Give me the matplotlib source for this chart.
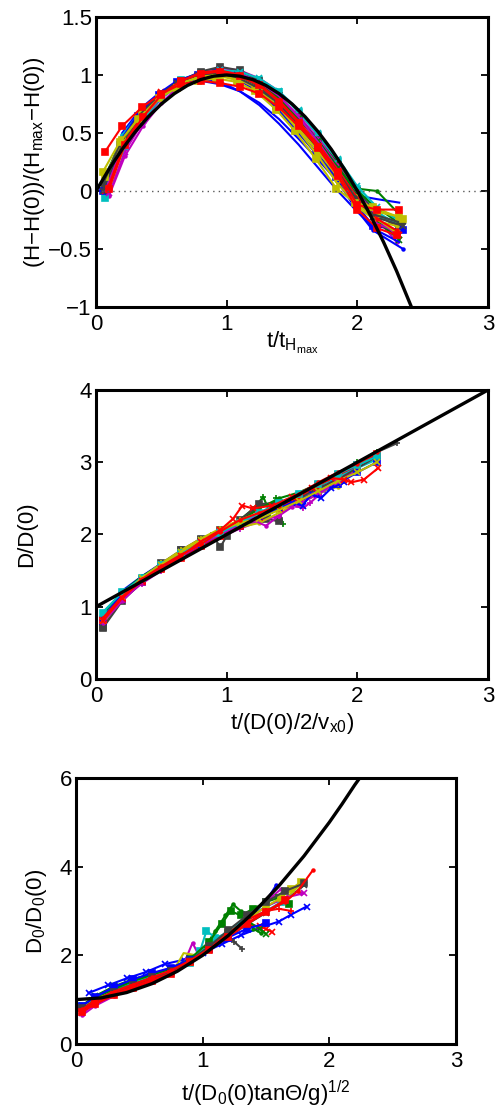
import matplotlib
matplotlib.use("Agg")
import matplotlib.pyplot as plt

plt.rcParams['font.family'] = ['Liberation Sans', 'DejaVu Sans']
plt.rcParams['mathtext.fontset'] = 'custom'
plt.rcParams['mathtext.rm'] = 'Liberation Sans'
plt.rcParams['mathtext.it'] = 'Liberation Sans'
plt.rcParams['mathtext.default'] = 'regular'

# MATLAB default colour cycle
MB = (0, 0, 1); MG = (0, 0.5, 0); MR = (1, 0, 0); MC = (0, 0.75, 0.75)
MM = (0.75, 0, 0.75); MY = (0.75, 0.75, 0); MK = (0.25, 0.25, 0.25)

# ---------------- Panel 1 : normalised height ----------------
T1 = [0.07, 0.2, 0.35, 0.5, 0.65, 0.8, 0.95, 1.1, 1.25, 1.4, 1.55, 1.7, 1.85, 2.0, 2.15, 2.32]
T1B = [0.05, 0.18, 0.32, 0.48, 0.62, 0.78, 0.92, 1.08, 1.22, 1.38, 1.52, 1.68, 1.84, 1.98, 2.12, 2.35]
T1C = [0.1, 0.22, 0.36, 0.5, 0.65, 0.8, 0.95, 1.1, 1.25, 1.4, 1.55, 1.7, 1.85, 2.0, 2.15, 2.3]
h01 = [0.34, 0.56, 0.72, 0.84, 0.92, 0.95, 0.93, 0.90, 0.84, 0.72, 0.56, 0.38, 0.16, -0.12, -0.16, -0.16]
h02 = [0.02, 0.50, 0.72, 0.86, 0.93, 0.95, 0.92, 0.86, 0.76, 0.62, 0.45, 0.27, 0.08, -0.04, -0.07, -0.10]
h03 = [0.16, 0.42, 0.62, 0.80, 0.89, 0.95, 0.97, 0.94, 0.86, 0.70, 0.52, 0.28, 0.02, -0.10, -0.14, -0.24]
h04 = [-0.04, 0.30, 0.56, 0.76, 0.92, 1.02, 1.06, 1.04, 0.97, 0.86, 0.68, 0.48, 0.24, 0.0, -0.24, -0.44]
h05 = [-0.06, 0.36, 0.64, 0.84, 0.96, 1.02, 1.04, 1.02, 0.96, 0.85, 0.68, 0.48, 0.26, 0.02, -0.18, -0.30]
h06 = [0.04, 0.40, 0.64, 0.82, 0.95, 1.03, 1.07, 1.04, 0.95, 0.82, 0.64, 0.44, 0.22, 0.0, -0.20, -0.32]
h07 = [0.10, 0.46, 0.68, 0.84, 0.94, 0.99, 1.01, 0.98, 0.90, 0.78, 0.62, 0.44, 0.24, 0.02, 0.0, -0.20]
h08 = [0.0, 0.40, 0.65, 0.83, 0.94, 1.00, 1.02, 0.98, 0.88, 0.73, 0.55, 0.34, 0.12, -0.10, -0.30, -0.34]
h09 = [0.0, 0.44, 0.68, 0.85, 0.95, 1.01, 1.03, 0.99, 0.90, 0.76, 0.58, 0.38, 0.16, -0.08, -0.28, -0.38]
h10 = [0.10, 0.44, 0.66, 0.82, 0.92, 0.97, 0.99, 0.95, 0.86, 0.70, 0.50, 0.30, 0.08, -0.14, -0.26, -0.30]
h11 = [0.08, 0.48, 0.70, 0.85, 0.95, 1.0, 1.0, 0.97, 0.89, 0.76, 0.58, 0.38, 0.16, -0.06, -0.22, -0.26]
h12 = [-0.02, 0.34, 0.60, 0.80, 0.93, 1.01, 1.04, 1.01, 0.93, 0.81, 0.65, 0.45, 0.22, -0.02, -0.22, -0.40]
h13 = [0.02, 0.42, 0.66, 0.84, 0.95, 1.01, 1.02, 0.97, 0.87, 0.72, 0.54, 0.33, 0.10, -0.14, -0.34, -0.50]
h14 = [0.06, 0.40, 0.64, 0.82, 0.94, 1.0, 1.02, 0.99, 0.91, 0.79, 0.63, 0.43, 0.20, -0.04, -0.26, -0.42]
h15 = [0.02, 0.40, 0.64, 0.83, 0.95, 1.01, 1.03, 0.99, 0.91, 0.77, 0.59, 0.37, 0.13, -0.16, -0.32, -0.38]
h16 = [0.12, 0.44, 0.67, 0.83, 0.93, 0.98, 1.0, 0.96, 0.87, 0.72, 0.54, 0.34, 0.12, -0.06, -0.18, -0.22]
h17 = [0.05, 0.42, 0.66, 0.84, 0.95, 1.02, 1.04, 1.0, 0.92, 0.78, 0.60, 0.40, 0.18, -0.06, -0.24, -0.34]
h18 = [0.05, 0.40, 0.64, 0.82, 0.94, 1.0, 1.02, 0.98, 0.90, 0.77, 0.60, 0.40, 0.18, -0.05, -0.20, -0.28]
h19 = [0.04, 0.44, 0.68, 0.84, 0.93, 0.96, 0.94, 0.86, 0.74, 0.58, 0.40, 0.20, 0.0, -0.18, -0.34, -0.44]
h20 = [0.08, 0.40, 0.62, 0.80, 0.92, 0.99, 1.02, 1.00, 0.94, 0.82, 0.66, 0.46, 0.22, 0.02, -0.12, -0.30]
h21 = [0.06, 0.38, 0.62, 0.80, 0.93, 1.01, 1.04, 1.03, 0.97, 0.86, 0.70, 0.50, 0.28, 0.04, -0.14, -0.24]
h22 = [0.0, 0.38, 0.63, 0.81, 0.93, 1.0, 1.03, 1.01, 0.94, 0.82, 0.64, 0.42, 0.18, -0.06, -0.28, -0.36]
h23 = [0.02, 0.40, 0.64, 0.82, 0.93, 0.99, 1.0, 0.97, 0.88, 0.72, 0.52, 0.30, 0.06, -0.12, -0.24, -0.36]
h24 = [0.0, 0.36, 0.60, 0.80, 0.93, 1.0, 1.03, 1.0, 0.92, 0.78, 0.60, 0.38, 0.16, -0.06, -0.22, -0.30]
P1_CURVES = [
    (T1, h02, MB, ''), (T1C, h04, MM, '.'), (T1, h05, MC, 's'), (T1, h06, MK, 's'),
    (T1, h07, MG, '.'), (T1B, h08, MB, 's'), (T1, h09, MR, 'x'), (T1C, h10, MY, '.'),
    (T1, h11, MC, '.'), (T1C, h12, MM, 'x'), (T1B, h13, MB, '.'), (T1, h14, MG, 'x'),
    (T1, h19, MB, ''), (T1B, h20, MG, ''), (T1C, h21, MC, 'x'), (T1, h22, MM, ''),
    (T1B, h24, MK, 'x'), (T1C, h23, MY, 'x'),
    (T1, h16, MY, 's'), (T1C, h17, MR, '.'), (T1B, h18, MK, '.'), (T1B, h03, MY, 's'),
    (T1C, h15, MR, 's'), (T1, h01, MR, 's'),
]
FIT1_T = [0, 0.1, 0.2, 0.3, 0.4, 0.5, 0.6, 0.7, 0.8, 0.9, 1.0, 1.1, 1.2, 1.3, 1.4, 1.5,
          1.6, 1.7, 1.8, 1.9, 2.0, 2.1, 2.2, 2.3, 2.41]
FIT1_Y = [0, 0.19, 0.36, 0.51, 0.64, 0.75, 0.84, 0.91, 0.96, 0.99, 1.0, 0.99, 0.96, 0.91,
          0.84, 0.75, 0.64, 0.51, 0.36, 0.19, 0, -0.21, -0.44, -0.69, -0.99]

# ---------------- Panel 2 : D/D(0) ----------------
T2 = [0.05, 0.2, 0.35, 0.5, 0.65, 0.8, 0.95, 1.1, 1.25, 1.4, 1.55, 1.7, 1.85, 2.0, 2.15]
T2S = [0.05, 0.2, 0.35, 0.5, 0.65, 0.8, 0.95, 1.1, 1.25, 1.4, 1.55, 1.7, 1.85]
d01_t = [0.05, 0.2, 0.35, 0.5, 0.65, 0.8, 0.95, 1.05, 1.12, 1.2, 1.35, 1.5, 1.65, 1.8, 1.9, 1.95, 2.05, 2.16]
d01 = [0.80, 1.12, 1.36, 1.52, 1.70, 1.90, 2.06, 2.22, 2.40, 2.36, 2.40, 2.52, 2.64, 2.78, 2.76, 2.72, 2.76, 2.92]
d02 = [0.86, 1.22, 1.42, 1.60, 1.76, 1.90, 2.02, 2.16, 2.30, 2.42, 2.48, 2.60, 2.80, 2.96, 3.10]
d03_t = [0.05, 0.2, 0.35, 0.5, 0.65, 0.8, 0.95, 1.1, 1.2, 1.28, 1.33, 1.38, 1.43]
d03 = [0.78, 1.10, 1.34, 1.54, 1.72, 1.88, 2.02, 2.20, 2.35, 2.52, 2.30, 2.50, 2.14]
d04 = [0.84, 1.15, 1.38, 1.56, 1.72, 1.86, 2.0, 2.14, 2.28, 2.42, 2.55, 2.68, 2.84, 3.0, 3.12]
d05_t = [0.05, 0.2, 0.35, 0.5, 0.65, 0.8, 0.9, 0.95, 1.0, 1.1, 1.2, 1.3, 1.4]
d05 = [0.72, 1.10, 1.38, 1.60, 1.78, 1.92, 1.98, 1.82, 1.98, 2.14, 2.20, 2.22, 2.18]
d06_t = [0.05, 0.2, 0.35, 0.5, 0.65, 0.8, 0.95, 1.1, 1.25, 1.4, 1.55, 1.7, 1.85, 2.0, 2.15, 2.3]
d06 = [0.74, 1.12, 1.40, 1.60, 1.76, 1.92, 2.02, 2.16, 2.40, 2.42, 2.52, 2.70, 2.82, 2.98, 3.14, 3.26]
d07_t = [0.05, 0.2, 0.35, 0.5, 0.65, 0.8, 0.95, 1.1, 1.25, 1.4, 1.5, 1.58, 1.64, 1.75, 1.9, 2.0]
d07 = [0.80, 1.10, 1.32, 1.50, 1.66, 1.82, 1.96, 2.08, 2.18, 2.26, 2.42, 2.36, 2.44, 2.62, 2.80, 2.88]
d08 = [0.88, 1.16, 1.38, 1.56, 1.74, 1.90, 2.04, 2.18, 2.30, 2.42, 2.52, 2.66, 2.80, 2.92, 3.04]
d09_t = [0.05, 0.2, 0.35, 0.5, 0.65, 0.8, 0.95, 1.1, 1.25, 1.4, 1.55, 1.7, 1.85, 1.9]
d09 = [0.76, 1.10, 1.36, 1.58, 1.76, 1.90, 2.02, 2.10, 2.16, 2.30, 2.44, 2.58, 2.66, 2.74]
d10 = [0.82, 1.12, 1.36, 1.52, 1.68, 1.84, 1.98, 2.12, 2.24, 2.36, 2.52, 2.68, 2.82, 2.96, 3.12]
d11_t = [0.05, 0.2, 0.35, 0.5, 0.65, 0.8, 0.95, 1.1, 1.25, 1.4, 1.5, 1.58, 1.65, 1.72, 1.8, 1.9]
d11 = [0.84, 1.18, 1.40, 1.56, 1.70, 1.86, 2.0, 2.14, 2.24, 2.36, 2.44, 2.40, 2.56, 2.50, 2.64, 2.72]
d12_t = [0.05, 0.2, 0.35, 0.5, 0.65, 0.8, 0.95, 1.1, 1.2, 1.3, 1.4, 1.5]
d12 = [0.78, 1.08, 1.34, 1.52, 1.70, 1.86, 2.0, 2.14, 2.20, 2.12, 2.26, 2.38]
d13 = [0.92, 1.20, 1.40, 1.58, 1.74, 1.88, 2.02, 2.16, 2.30, 2.44, 2.56, 2.70, 2.84, 2.96, 3.08]
d14 = [0.80, 1.14, 1.40, 1.58, 1.76, 1.92, 2.06, 2.16, 2.22, 2.34, 2.46, 2.60, 2.74, 2.86, 3.0]
d15 = [0.84, 1.14, 1.38, 1.56, 1.72, 1.86, 2.04, 2.20, 2.30, 2.40, 2.56, 2.72, 2.86, 2.98, 3.14]
d16 = [0.70, 1.08, 1.34, 1.56, 1.78, 1.94, 2.06, 2.20, 2.42, 2.44, 2.50, 2.64, 2.76, 2.92, 3.08]
d17 = [0.90, 1.20, 1.42, 1.58, 1.74, 1.90, 2.04, 2.18, 2.36, 2.50, 2.58, 2.70, 2.84, 2.98, 3.16]
d18 = [0.80, 1.14, 1.36, 1.54, 1.70, 1.86, 2.0, 2.12, 2.26, 2.38, 2.46, 2.56, 2.70, 2.86, 3.0]
d19 = [0.84, 1.16, 1.40, 1.60, 1.78, 1.94, 2.08, 2.20, 2.30, 2.38, 2.42, 2.56, 2.70]
d20 = [0.82, 1.10, 1.34, 1.54, 1.72, 1.88, 2.02, 2.14, 2.28, 2.36, 2.42, 2.56, 2.72]
P2_CURVES = [
    (T2, d02, MB, '.'), (d03_t, d03, MG, '+'), (T2, d04, MG, '+'), (d05_t, d05, MK, 's'),
    (d06_t, d06, MK, '+'), (d07_t, d07, MM, '+'), (T2, d08, MC, ''), (d09_t, d09, MY, '.'),
    (T2, d16, MK, 's'), (T2, d17, MG, '.'), (T2, d18, MB, 's'), (T2S, d19, MY, '+'),
    (T2S, d20, MM, 's'),
    (T2, d10, MR, 's'), (d11_t, d11, MB, 'x'), (d12_t, d12, MM, '.'), (T2, d13, MC, 's'),
    (T2, d14, MY, 'x'), (T2, d15, MR, '.'), (d01_t, d01, MR, 'x'),
]
FIT2_T = [0, 3]
FIT2_Y = [1, 4]

# ---------------- Panel 3 : D0/D0(0) ----------------
T3 = [0.05, 0.15, 0.3, 0.45, 0.6, 0.75, 0.9, 1.05, 1.2, 1.35, 1.5, 1.65, 1.8]
T3S = [0.05, 0.15, 0.3, 0.45, 0.6, 0.75, 0.9, 1.05, 1.2, 1.35, 1.5, 1.65]
e01_t = [0.1, 0.25, 0.4, 0.55, 0.7, 0.85, 1.0, 1.15, 1.3, 1.45, 1.6, 1.7, 1.82]
e01 = [1.15, 1.32, 1.48, 1.62, 1.80, 1.90, 2.05, 2.25, 2.45, 2.62, 2.76, 2.92, 3.10]
e02 = [0.72, 0.90, 1.10, 1.26, 1.42, 1.58, 1.84, 2.12, 2.42, 2.70, 2.98, 3.25]
e03_t = [0.05, 0.15, 0.3, 0.45, 0.6, 0.75, 0.9, 1.0, 1.1, 1.18, 1.24, 1.3, 1.4, 1.46]
e03 = [0.88, 1.06, 1.26, 1.44, 1.55, 1.66, 1.88, 2.10, 2.55, 2.90, 3.15, 3.00, 2.60, 2.50]
e04_t = [0.05, 0.15, 0.3, 0.45, 0.6, 0.75, 0.85, 0.92, 0.97, 1.05, 1.2, 1.35, 1.5, 1.62, 1.78]
e04 = [0.65, 0.86, 1.08, 1.26, 1.42, 1.60, 1.80, 2.28, 2.00, 2.20, 2.50, 2.90, 3.20, 3.50, 3.40]
e05_t = [0.05, 0.15, 0.3, 0.45, 0.6, 0.75, 0.8, 0.85, 0.95, 1.1, 1.25, 1.4, 1.55, 1.7, 1.78]
e05 = [0.80, 0.98, 1.18, 1.34, 1.50, 1.66, 1.80, 2.05, 2.00, 2.30, 2.55, 2.80, 3.05, 3.40, 3.62]
e06_t = [0.05, 0.15, 0.3, 0.45, 0.6, 0.75, 0.9, 0.98, 1.03, 1.1, 1.2, 1.35, 1.5, 1.62]
e06 = [0.85, 1.02, 1.20, 1.36, 1.48, 1.62, 1.82, 2.10, 2.55, 2.40, 2.50, 2.80, 3.00, 3.20]
e07_t = [0.05, 0.15, 0.3, 0.45, 0.6, 0.75, 0.9, 1.05, 1.2, 1.25, 1.31]
e07 = [0.78, 0.96, 1.14, 1.30, 1.46, 1.62, 1.84, 2.12, 2.45, 2.30, 2.15]
e08_t = [0.05, 0.15, 0.3, 0.45, 0.6, 0.75, 0.9, 1.05, 1.2, 1.35, 1.45, 1.5, 1.55]
e08 = [0.75, 0.96, 1.16, 1.32, 1.48, 1.64, 1.90, 2.18, 2.45, 2.70, 2.65, 2.60, 2.52]
e09_t = [0.05, 0.15, 0.3, 0.45, 0.6, 0.75, 0.9, 1.05, 1.2, 1.35, 1.5, 1.58]
e09 = [0.82, 1.02, 1.22, 1.38, 1.54, 1.68, 1.88, 2.16, 2.50, 2.86, 3.22, 3.58]
e10_t = [0.05, 0.15, 0.3, 0.45, 0.6, 0.75, 0.9, 1.05, 1.2, 1.35, 1.5, 1.65, 1.75, 1.87]
e10 = [0.78, 0.98, 1.18, 1.34, 1.50, 1.66, 1.88, 2.14, 2.44, 2.72, 3.00, 3.20, 3.45, 3.92]
e11_t = [0.05, 0.15, 0.3, 0.45, 0.6, 0.75, 0.9, 1.05, 1.2, 1.35, 1.45, 1.5]
e11 = [0.86, 1.08, 1.30, 1.46, 1.58, 1.70, 1.88, 2.16, 2.52, 2.78, 2.60, 2.48]
e12 = [0.82, 1.00, 1.20, 1.36, 1.52, 1.66, 1.86, 2.12, 2.40, 2.70, 2.96, 3.22, 3.58]
e13 = [0.84, 1.04, 1.24, 1.40, 1.54, 1.68, 1.92, 2.20, 2.56, 2.86, 3.10, 3.30]
e14_t = [0.05, 0.15, 0.3, 0.45, 0.6, 0.75, 0.9, 1.05, 1.15, 1.22, 1.3, 1.4, 1.5, 1.6, 1.68]
e14 = [0.84, 1.04, 1.24, 1.42, 1.56, 1.70, 1.92, 2.30, 2.70, 3.00, 2.90, 3.05, 3.20, 3.30, 3.15]
e15 = [0.70, 0.92, 1.12, 1.30, 1.46, 1.62, 1.86, 2.14, 2.48, 2.80, 3.10, 3.30, 3.40]
e16_t = [0.05, 0.15, 0.3, 0.45, 0.6, 0.75, 0.9, 1.05, 1.2, 1.35, 1.5, 1.62, 1.7, 1.78]
e16 = [0.82, 1.00, 1.18, 1.34, 1.50, 1.64, 1.86, 2.18, 2.50, 2.80, 3.10, 3.30, 3.50, 3.66]
e17_t = [0.05, 0.15, 0.3, 0.45, 0.6, 0.75, 0.9, 1.05, 1.2, 1.35, 1.5]
e17 = [0.86, 1.06, 1.28, 1.46, 1.60, 1.72, 1.90, 2.14, 2.40, 2.60, 2.72]
e18_t = [0.05, 0.15, 0.3, 0.45, 0.6, 0.75, 0.9, 1.05, 1.2, 1.35, 1.5, 1.6, 1.7]
e18 = [0.74, 0.94, 1.14, 1.30, 1.46, 1.60, 1.86, 2.16, 2.50, 2.80, 3.00, 3.05, 3.00]
e19 = [0.80, 0.98, 1.18, 1.34, 1.50, 1.64, 1.88, 2.20, 2.56, 2.90, 3.20, 3.45, 3.62]
P3_CURVES = [
    (e01_t, e01, MB, 'x'), (e03_t, e03, MG, '.'), (e04_t, e04, MM, '.'), (e05_t, e05, MY, ''),
    (e06_t, e06, MC, 's'), (e07_t, e07, MK, '+'), (e08_t, e08, MR, 'x'), (e09_t, e09, MB, '.'),
    (e11_t, e11, MG, 'x'), (T3, e12, MK, 'x'), (T3S, e13, MC, '.'), (e14_t, e14, MG, 's'),
    (T3, e15, MM, 'x'), (e16_t, e16, MY, 's'), (e17_t, e17, MB, 's'), (e18_t, e18, MR, '+'),
    (T3, e19, MK, 's'), (e10_t, e10, MR, '.'), (T3S, e02, MR, 's'),
]
FIT3_T = [0, 0.2, 0.4, 0.6, 0.8, 1.0, 1.2, 1.4, 1.6, 1.8, 2.0, 2.1, 2.2, 2.24]
FIT3_Y = [1, 1.04, 1.16, 1.36, 1.64, 2.0, 2.44, 2.96, 3.56, 4.24, 5.0, 5.41, 5.84, 6.0]

XTICKS = [0, 1, 2, 3]
XTICKLABELS = ['0', '1', '2', '3']
Y1TICKS = [-1, -0.5, 0, 0.5, 1, 1.5]
Y1TICKLABELS = ['\u22121', '\u22120.5', '0', '0.5', '1', '1.5']
Y2TICKS = [0, 1, 2, 3, 4]
Y2TICKLABELS = ['0', '1', '2', '3', '4']
Y3TICKS = [0, 2, 4, 6]
Y3TICKLABELS = ['0', '2', '4', '6']

FS = 16
fig = plt.figure(figsize=(4.95, 11.1), dpi=100)
ax1 = fig.add_axes([0.194, 0.7234, 0.792, 0.2613])
ax2 = fig.add_axes([0.194, 0.3883, 0.792, 0.2604])
ax3 = fig.add_axes([0.1535, 0.0595, 0.7677, 0.2396])


def style(ax, yt, ytl, ylim):
    ax.set_xlim(0, 3)
    ax.set_ylim(*ylim)
    ax.set_xticks(XTICKS)
    ax.set_xticklabels(XTICKLABELS)
    ax.set_yticks(yt)
    ax.set_yticklabels(ytl)
    ax.tick_params(direction='in', length=5, width=1.3, top=True, right=True,
                   labelsize=FS, pad=3)
    ax.tick_params(axis='x', pad=5)
    for s in ax.spines.values():
        s.set_linewidth(2.2)


def draw(ax, curves):
    for t, y, c, m in curves:
        ax.plot(t, y, color=c, lw=1.5, marker=m if m else None, ms=4,
                mew=1.2, solid_joinstyle='round')


draw(ax1, P1_CURVES)
ax1.axhline(0, color=(0.35, 0.35, 0.35), lw=1, ls=(0, (1, 3)))
ax1.plot(FIT1_T, FIT1_Y, color='k', lw=2.4)
style(ax1, Y1TICKS, Y1TICKLABELS, (-1, 1.5))
ax1.set_ylabel('(H\u2212H(0))/(H$_{max}$\u2212H(0))', fontsize=FS)
ax1.set_xlabel('t/t$_{H_{max}}$', fontsize=FS)
ax1.yaxis.set_label_coords(-0.125, 0.5)
ax1.xaxis.set_label_coords(0.5, -0.08)

draw(ax2, P2_CURVES)
ax2.plot(FIT2_T, FIT2_Y, color='k', lw=2.4)
style(ax2, Y2TICKS, Y2TICKLABELS, (0, 4))
ax2.set_ylabel('D/D(0)', fontsize=FS)
ax2.set_xlabel('t/(D(0)/2/v$_{x0}$)', fontsize=FS)
ax2.yaxis.set_label_coords(-0.15, 0.5)
ax2.xaxis.set_label_coords(0.5, -0.11)

draw(ax3, P3_CURVES)
ax3.plot(FIT3_T, FIT3_Y, color='k', lw=2.4)
style(ax3, Y3TICKS, Y3TICKLABELS, (0, 6))
ax3.set_ylabel('D$_0$/D$_0$(0)', fontsize=FS)
ax3.set_xlabel('t/(D$_0$(0)tan\u0398/g)$^{1/2}$', fontsize=FS)
ax3.yaxis.set_label_coords(-0.07, 0.5)
ax3.xaxis.set_label_coords(0.5, -0.13)

fig.savefig('out.png', dpi=100)
